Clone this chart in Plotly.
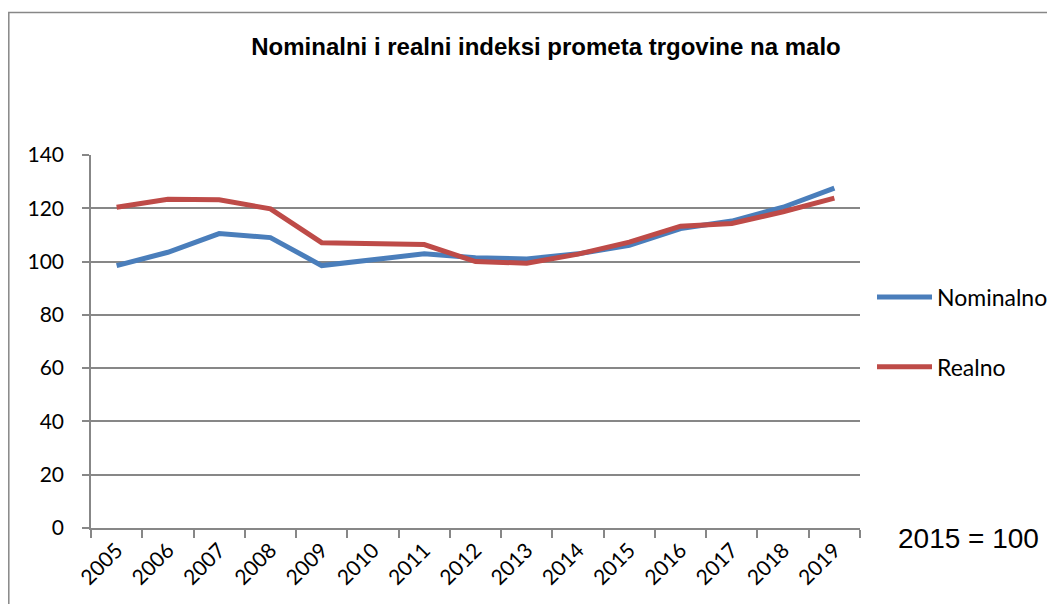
import plotly.graph_objects as go

years = [str(y) for y in range(2005, 2020)]
nominalno = [98.5, 103.5, 110.5, 109.0, 98.5, 100.8, 102.9, 101.4, 101.0, 102.9, 106.1, 112.4, 115.2, 120.4, 127.6]
realno = [120.4, 123.4, 123.2, 119.8, 107.1, 106.8, 106.4, 100.0, 99.4, 102.8, 107.3, 113.3, 114.3, 118.7, 123.8]

title_text = "Nominalni i realni indeksi prometa trgovine na malo"
note_text = "2015 = 100"
y_ticks = [0, 20, 40, 60, 80, 100, 120, 140]

label_font = "Lato, Carlito, Calibri, sans-serif"
grid_col = "#878787"

W, H = 1047, 596  # page has an 8px body margin

fig = go.Figure()
fig.add_trace(go.Scatter(x=years, y=nominalno, mode="lines", name="Nominalno",
                         line=dict(color="#4A7EBB", width=5), legendgroup="a"))
fig.add_trace(go.Scatter(x=years, y=realno, mode="lines", name="Realno",
                         line=dict(color="#BE4B48", width=5), legendgroup="b"))

fig.update_layout(
    width=W, height=H,
    margin=dict(l=83, r=195, t=147, b=76, autoexpand=False),
    paper_bgcolor="white", plot_bgcolor="white",
    title=dict(text="<b>" + title_text + "</b>", x=538/W, xanchor="center",
               xref="container", y=1-39/H, yref="container", yanchor="middle",
               font=dict(family="Liberation Sans, Arial", size=24, color="black")),
    legend=dict(xref="container", yref="container", x=864/W, xanchor="left",
                y=1-324/H, yanchor="middle",
                font=dict(family=label_font, size=23, color="black"),
                itemwidth=55,
                tracegroupgap=37, bgcolor="rgba(0,0,0,0)"),
    showlegend=True,
)
fig.update_xaxes(type="category", showgrid=False, showline=True, linecolor=grid_col, linewidth=1.5,
                 ticks="outside", tickson="boundaries", ticklen=8, tickcolor=grid_col, tickwidth=1.5,
                 tickangle=-45, tickfont=dict(family=label_font, size=21, color="black"),
                 range=[-0.5, 14.5])
fig.update_yaxes(range=[0, 140], tickvals=y_ticks, showgrid=True, gridcolor=grid_col, gridwidth=1.5,
                 showline=True, linecolor=grid_col, linewidth=1.5, zeroline=False,
                 ticks="outside", ticklen=7, tickcolor=grid_col, tickwidth=1.5,
                 ticklabelstandoff=14,
                 tickfont=dict(family=label_font, size=21, color="black"))

fig.add_annotation(text=note_text, xref="paper", yref="paper", x=(968-91)/769, y=(528-538)/373,
                   showarrow=False, xanchor="center", yanchor="middle",
                   font=dict(family="Liberation Sans, Arial", size=28, color="black"))

fig.add_shape(type="rect", xref="paper", yref="paper",
              x0=(0.8-83)/769, x1=1.4, y0=-0.4, y1=(520-4.5)/373,
              line=dict(color=grid_col, width=1.5), fillcolor="rgba(0,0,0,0)", layer="below")

fig.write_html("out.html")
